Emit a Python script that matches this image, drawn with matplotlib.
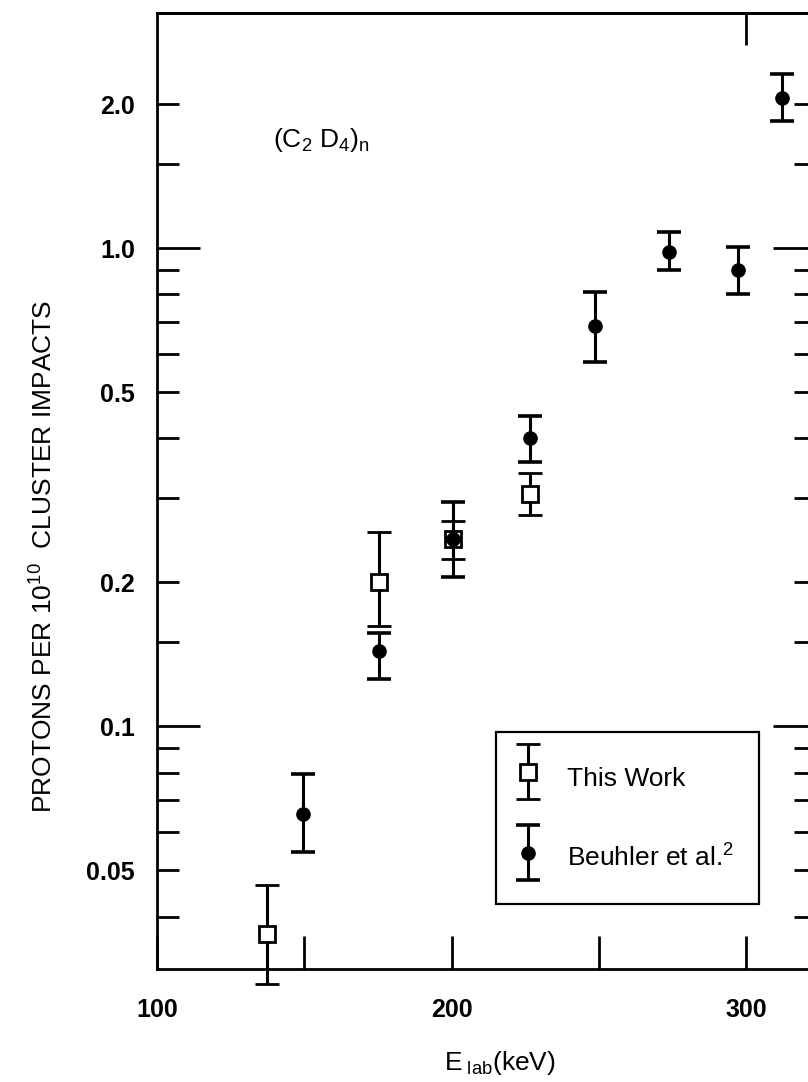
import matplotlib
matplotlib.use("Agg")
import matplotlib.pyplot as plt
from matplotlib.ticker import FixedLocator, FixedFormatter, NullFormatter
from matplotlib.container import ErrorbarContainer
from matplotlib.legend_handler import HandlerErrorbar

plt.rcParams["font.family"] = ["Liberation Sans", "DejaVu Sans"]
plt.rcParams["mathtext.fontset"] = "custom"
plt.rcParams["mathtext.rm"] = "Liberation Sans"
plt.rcParams["mathtext.it"] = "Liberation Sans"

# this work (open squares)
tw_E = [137.3, 175.3, 200.4, 226.6]
tw_y = [0.0368, 0.200, 0.247, 0.306]
tw_lo = [0.0290, 0.162, 0.224, 0.277]
tw_hi = [0.0466, 0.255, 0.269, 0.339]

# Beuhler et al. (filled circles)
bh_E = [149.5, 175.3, 200.4, 226.6, 248.6, 273.7, 297.0, 312.0]
bh_y = [0.0656, 0.144, 0.247, 0.401, 0.687, 0.98, 0.90, 2.06]
bh_lo = [0.0546, 0.1256, 0.205, 0.357, 0.578, 0.90, 0.80, 1.84]
bh_hi = [0.0795, 0.157, 0.294, 0.446, 0.809, 1.08, 1.005, 2.31]

y_long = [0.1, 1.0]
y_short = [2.0, 1.5, 0.9, 0.8, 0.7, 0.6, 0.5, 0.4, 0.3, 0.2, 0.15,
           0.09, 0.08, 0.07, 0.06, 0.05, 0.04]
y_labels = {2.0: "2.0", 1.0: "1.0", 0.5: "0.5", 0.2: "0.2", 0.1: "0.1", 0.05: "0.05"}
x_major = [100, 200, 300]
x_minor = [150, 250]
x_top = [300]

W, H = 808, 1082
fig = plt.figure(figsize=(W / 100, H / 100), dpi=100)
# right spine sits just past the image edge, like the scanned original
ax = fig.add_axes([157 / W, 1 - 969 / H, 659 / W, 956 / H])
ax.set_yscale("log")
ax.set_xlim(100, 323.6)
ax.set_ylim(0.0311, 3.1)


def errs(y, lo, hi):
    return [[v - l for v, l in zip(y, lo)], [h - v for v, h in zip(y, hi)]]


eb_kw = dict(ls="none", ecolor="black", elinewidth=2.2, capsize=8.6, capthick=2.6)
tw = ax.errorbar(tw_E, tw_y, yerr=errs(tw_y, tw_lo, tw_hi), fmt="s", ms=11,
                 mfc="white", mec="black", mew=2.0, zorder=3, label="This Work", **eb_kw)
bh = ax.errorbar(bh_E, bh_y, yerr=errs(bh_y, bh_lo, bh_hi), fmt="o", ms=9.5,
                 mfc="black", mec="black", zorder=4, label="Beuhler et al.$^{2}$", **eb_kw)
for cont in (tw, bh):
    for art in cont.get_children():
        art.set_clip_on(False)

for s in ax.spines.values():
    s.set_linewidth(2.0)

ax.yaxis.set_major_locator(FixedLocator(y_long))
ax.yaxis.set_minor_locator(FixedLocator(y_short))
ax.yaxis.set_major_formatter(FixedFormatter([y_labels[v] for v in y_long]))
ax.yaxis.set_minor_formatter(FixedFormatter([y_labels.get(v, "") for v in y_short]))
ax.xaxis.set_major_locator(FixedLocator(x_major))
ax.xaxis.set_minor_locator(FixedLocator(x_minor))
ax.xaxis.set_major_formatter(FixedFormatter([str(v) for v in x_major]))
ax.xaxis.set_minor_formatter(NullFormatter())

ax.tick_params(axis="y", which="major", direction="in", length=31, width=2.0,
               left=True, right=True, pad=16, labelsize=18)
ax.tick_params(axis="y", which="minor", direction="in", length=16, width=2.0,
               left=True, right=True, pad=16, labelsize=18)
ax.tick_params(axis="x", which="both", direction="in", length=24, width=2.0,
               bottom=True, top=False, pad=21, labelsize=18)
for lab in ax.get_xticklabels() + ax.get_yticklabels() + ax.get_yticklabels(minor=True):
    lab.set_fontweight("bold")

# only one tick hangs from the top edge in the original
sec = ax.secondary_xaxis("top")
sec.set_xticks(x_top)
sec.tick_params(direction="in", length=23, width=2.0, labeltop=False)
sec.spines["top"].set_linewidth(2.0)

ax.set_xlabel(r"E$_{\rm\ lab}$(keV)", fontsize=19)
ax.xaxis.set_label_coords((500 - 157) / 659, (969 - 1063) / 956)
ax.xaxis.label.set_va("center")
ax.set_ylabel(r"PROTONS PER 10$^{10}$  CLUSTER IMPACTS", fontsize=19)
ax.yaxis.set_label_coords((44 - 157) / 659, (969 - 556) / 956)
ax.yaxis.label.set_va("center")

ax.text((273 - 157) / 659, (969 - 140) / 956, r"(C$_2$ D$_4$)$_n$", fontsize=19,
        ha="left", va="center", transform=ax.transAxes)

leg = ax.legend(handles=[tw, bh], loc="lower left",
                bbox_to_anchor=((496 - 157) / 659, (969 - 904) / 956),
                borderaxespad=0, fontsize=19, frameon=True, fancybox=False,
                edgecolor="black", framealpha=1, borderpad=0.95,
                labelspacing=1.52, handleheight=2.0, handlelength=0.55,
                handletextpad=1.2,
                handler_map={ErrorbarContainer: HandlerErrorbar(yerr_size=1.04)})
leg.get_frame().set_linewidth(1.6)

fig.savefig("out.png", dpi=100)
